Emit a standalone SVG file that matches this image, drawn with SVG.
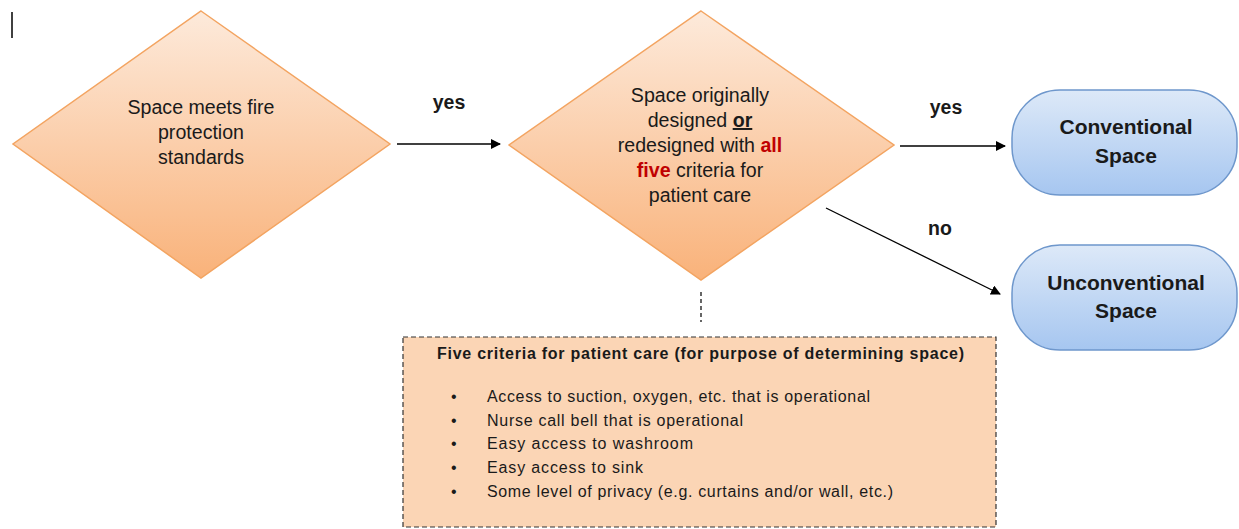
<svg xmlns="http://www.w3.org/2000/svg" width="1239" height="529" viewBox="0 0 1239 529">
<defs>
<linearGradient id="gOr" x1="0" y1="0" x2="0" y2="1">
<stop offset="0" stop-color="#fdeadb"/>
<stop offset="1" stop-color="#f9b27a"/>
</linearGradient>
<linearGradient id="gBl" x1="0" y1="0" x2="0" y2="1">
<stop offset="0" stop-color="#dde9f8"/>
<stop offset="1" stop-color="#a6c6f0"/>
</linearGradient>
<marker id="arr" markerWidth="10" markerHeight="10" refX="9" refY="5" orient="auto" markerUnits="userSpaceOnUse">
<path d="M0,0 L10,5 L0,10 Z" fill="#000"/>
</marker>
<style>
.dia{fill:url(#gOr);stroke:#f3a461;stroke-width:1.5}
.term{fill:url(#gBl);stroke:#6e97cc;stroke-width:1.5}
.t{font-family:"Liberation Sans",Arial,sans-serif;fill:#1a1a1a;text-anchor:middle}
.n{font-size:19.6px}
.b{font-size:21px;font-weight:bold}
.lbl{font-family:"Liberation Sans",Arial,sans-serif;font-size:19.5px;font-weight:bold;fill:#1a1a1a;text-anchor:middle}
.red{fill:#c00000;font-weight:bold}
.conn{stroke:#000;stroke-width:1.3;fill:none}
.li{font-family:"Liberation Sans",Arial,sans-serif;font-size:16px;fill:#1a1a1a}
</style>
</defs>
<rect width="1239" height="529" fill="#fff"/>
<line x1="12" y1="12" x2="12" y2="38" stroke="#000" stroke-width="1.5"/>
<g id="connectors">
<line class="conn" x1="397" y1="144" x2="500" y2="144" marker-end="url(#arr)"/>
<line class="conn" x1="900" y1="146" x2="1005" y2="146" marker-end="url(#arr)"/>
<line class="conn" x1="826" y1="208" x2="1000" y2="294" marker-end="url(#arr)"/>
<line x1="701" y1="292" x2="701" y2="322" stroke="#000" stroke-width="1.2" stroke-dasharray="4,3"/>
<text class="lbl" x="449" y="109">yes</text>
<text class="lbl" x="946" y="114">yes</text>
<text class="lbl" x="940" y="235">no</text>
</g>
<g id="node-fire">
<polygon class="dia" points="201,11 390,144 201,278 13,144"/>
<text class="t n" x="201" y="114">Space meets fire</text>
<text class="t n" x="201" y="139">protection</text>
<text class="t n" x="201" y="164">standards</text>
</g>
<g id="node-criteria">
<polygon class="dia" points="701,11 894,145 701,280 509,145"/>
<text class="t n" x="700" y="102">Space originally</text>
<text class="t n" x="700" y="127">designed <tspan font-weight="bold" text-decoration="underline">or</tspan></text>
<text class="t n" x="700" y="152">redesigned with <tspan class="red">all</tspan></text>
<text class="t n" x="700" y="177"><tspan class="red">five</tspan> criteria for</text>
<text class="t n" x="700" y="202">patient care</text>
</g>
<g id="node-conventional">
<rect class="term" x="1012" y="90" width="225" height="105" rx="48" ry="48"/>
<text class="t b" x="1126" y="134">Conventional</text>
<text class="t b" x="1126" y="163">Space</text>
</g>
<g id="node-unconventional">
<rect class="term" x="1012" y="245" width="225" height="105" rx="48" ry="48"/>
<text class="t b" x="1126" y="290">Unconventional</text>
<text class="t b" x="1126" y="318">Space</text>
</g>
<g id="note">
<rect x="403" y="337" width="593" height="190" fill="#fbd5b5" stroke="#333" stroke-width="1.2" stroke-dasharray="5,3"/>
<text x="437" y="359" font-family="'Liberation Sans',Arial,sans-serif" fill="#1a1a1a" font-size="16" font-weight="bold" textLength="527" lengthAdjust="spacing">Five criteria for patient care (for purpose of determining space)</text>
<g class="li">
<text x="451" y="402">•</text><text x="487" y="402" textLength="383" lengthAdjust="spacing">Access to suction, oxygen, etc. that is operational</text>
<text x="451" y="426">•</text><text x="487" y="426" textLength="256" lengthAdjust="spacing">Nurse call bell that is operational</text>
<text x="451" y="449">•</text><text x="487" y="449" textLength="206" lengthAdjust="spacing">Easy access to washroom</text>
<text x="451" y="473">•</text><text x="487" y="473" textLength="156" lengthAdjust="spacing">Easy access to sink</text>
<text x="451" y="497">•</text><text x="487" y="497" textLength="406" lengthAdjust="spacing">Some level of privacy (e.g. curtains and/or wall, etc.)</text>
</g>
</g>
</svg>
